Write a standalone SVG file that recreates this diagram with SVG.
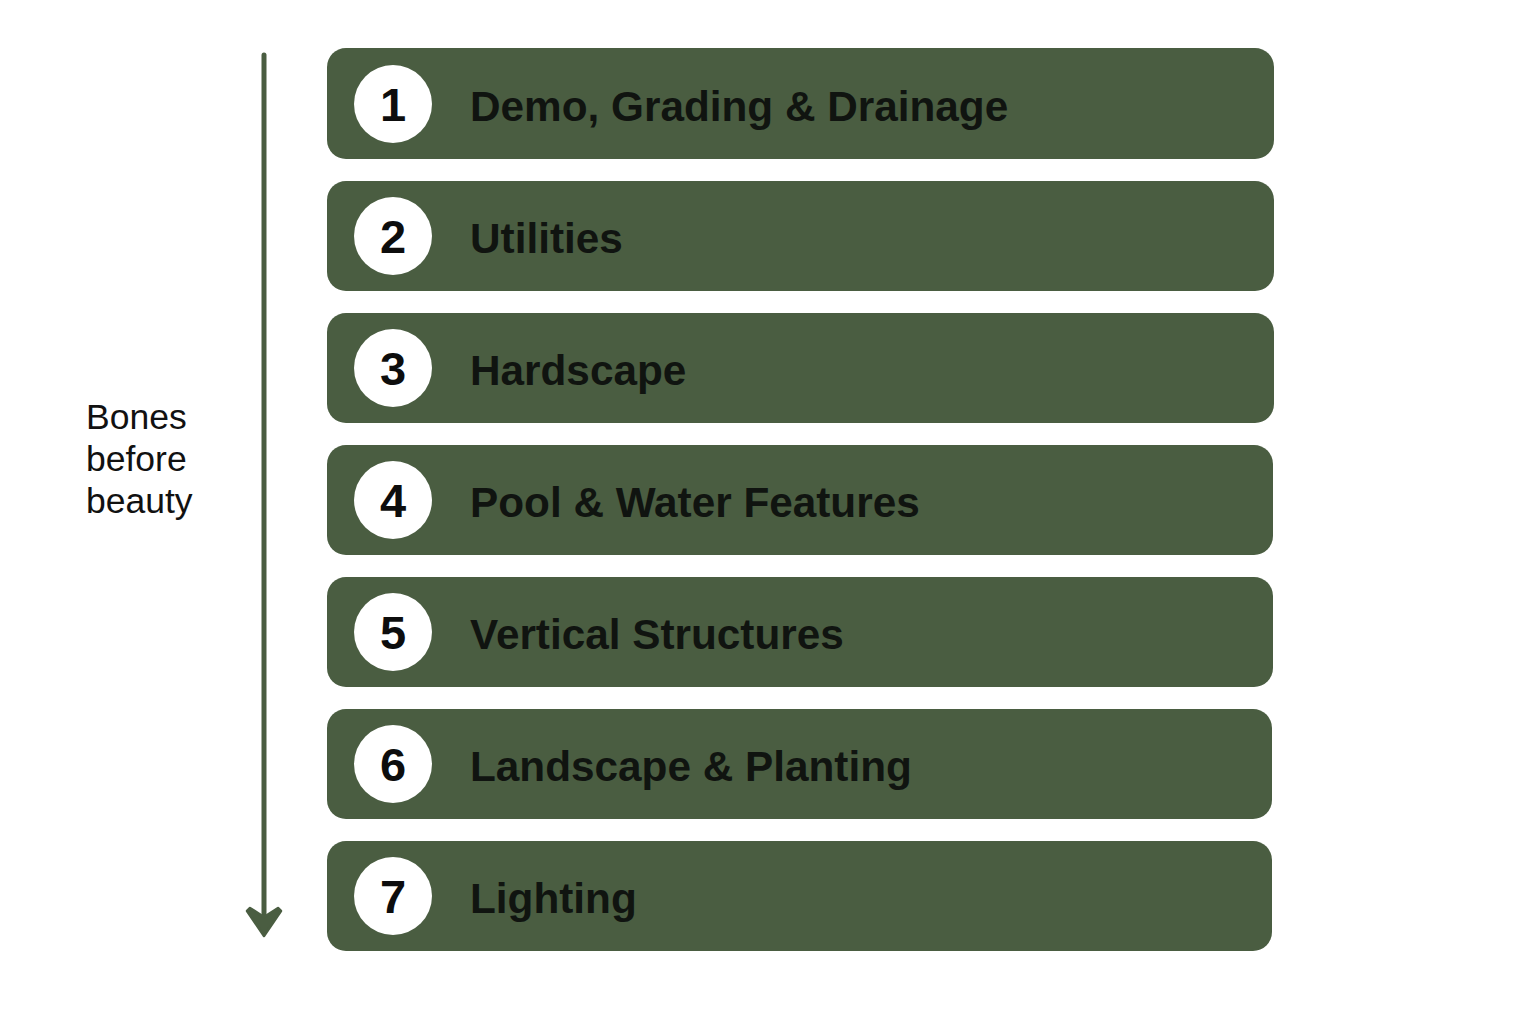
<svg xmlns="http://www.w3.org/2000/svg" width="1536" height="1024" viewBox="0 0 1536 1024">
<style>
.bar{fill:#4a5d41}
.dot{fill:#ffffff}
.num{font-family:"Liberation Sans",Arial,sans-serif;font-weight:bold;font-size:47px;fill:#0d0d0d;text-anchor:middle}
.lbl{font-family:"Liberation Sans",Arial,sans-serif;font-weight:bold;font-size:42.3px;fill:#101410}
.side{font-family:"Liberation Sans",Arial,sans-serif;font-size:35.5px;fill:#111111}
.conn{stroke:#4a5d41;stroke-width:5;fill:none;stroke-linecap:round;stroke-linejoin:round}
.head{fill:#4a5d41;stroke:#4a5d41;stroke-width:2.5;stroke-linejoin:round}
</style>
<rect width="1536" height="1024" fill="#ffffff"/>
<g id="connectors">
<line class="conn" x1="264" y1="55" x2="264" y2="920"/>
<path class="head" d="M264,936 L281,911 L278,908 L264,917 L250,908 L247,911 Z"/>
</g>
<g id="side-label">
<text class="side" x="86" y="429">Bones</text>
<text class="side" x="86" y="471">before</text>
<text class="side" x="86" y="513">beauty</text>
</g>
<g id="step1">
<rect class="bar" x="327" y="48" width="947" height="111" rx="19"/>
<circle class="dot" cx="393" cy="104" r="39"/>
<text class="num" x="393" y="121">1</text>
<text class="lbl" x="470" y="121">Demo, Grading &amp; Drainage</text>
</g>
<g id="step2">
<rect class="bar" x="327" y="181" width="947" height="110" rx="19"/>
<circle class="dot" cx="393" cy="236" r="39"/>
<text class="num" x="393" y="253">2</text>
<text class="lbl" x="470" y="253">Utilities</text>
</g>
<g id="step3">
<rect class="bar" x="327" y="313" width="947" height="110" rx="19"/>
<circle class="dot" cx="393" cy="368" r="39"/>
<text class="num" x="393" y="385">3</text>
<text class="lbl" x="470" y="385">Hardscape</text>
</g>
<g id="step4">
<rect class="bar" x="327" y="445" width="946" height="110" rx="19"/>
<circle class="dot" cx="393" cy="500" r="39"/>
<text class="num" x="393" y="517">4</text>
<text class="lbl" x="470" y="517">Pool &amp; Water Features</text>
</g>
<g id="step5">
<rect class="bar" x="327" y="577" width="946" height="110" rx="19"/>
<circle class="dot" cx="393" cy="632" r="39"/>
<text class="num" x="393" y="649">5</text>
<text class="lbl" x="470" y="649">Vertical Structures</text>
</g>
<g id="step6">
<rect class="bar" x="327" y="709" width="945" height="110" rx="19"/>
<circle class="dot" cx="393" cy="764" r="39"/>
<text class="num" x="393" y="781">6</text>
<text class="lbl" x="470" y="781">Landscape &amp; Planting</text>
</g>
<g id="step7">
<rect class="bar" x="327" y="841" width="945" height="110" rx="19"/>
<circle class="dot" cx="393" cy="896" r="39"/>
<text class="num" x="393" y="913">7</text>
<text class="lbl" x="470" y="913">Lighting</text>
</g>
</svg>
